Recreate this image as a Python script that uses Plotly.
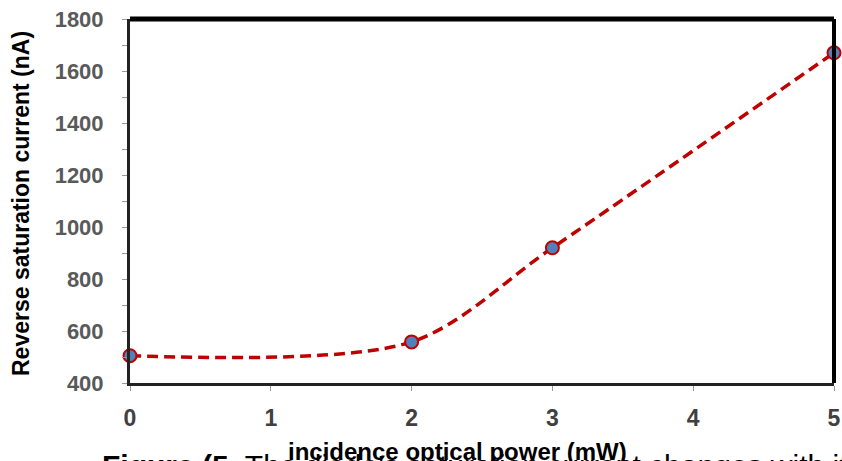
import plotly.graph_objects as go

power_mw = [0, 2, 3, 5]
current_na = [505, 558, 920, 1670]
x_ticks = [0, 1, 2, 3, 4, 5]
y_ticks = [400, 600, 800, 1000, 1200, 1400, 1600, 1800]
x_title = "incidence optical power (mW)"
y_title = "Reverse saturation current (nA)"
caption = "<b>Figure (5.</b> The diode's saturation current changes with its"

fig = go.Figure()
fig.add_trace(go.Scatter(
    x=power_mw, y=current_na, mode="lines+markers",
    line=dict(color="#C00000", width=3.5, dash="11px,6px", shape="spline", smoothing=0.85),
    marker=dict(size=13, color="#4F81BD", line=dict(color="#C00000", width=2)),
    cliponaxis=False, showlegend=False,
))

W, H = 842, 461
L, R, T, B = 130, 8, 19, 78
pw, ph = W - L - R, H - T - B

def px_x(p):
    return (p - L) / pw

def px_y(p):
    return (H - B - p) / ph

fig.update_layout(
    template="none",
    width=W, height=H,
    margin=dict(l=L, r=R, t=T, b=B, pad=0),
    paper_bgcolor="white", plot_bgcolor="white",
    xaxis=dict(range=[0, 5], tickvals=x_ticks, showgrid=False, zeroline=False,
               automargin=False,
               showline=True, linecolor="#222", linewidth=3,
               ticks="outside", ticklen=5, tickcolor="#999", tickwidth=1,
               tickfont=dict(family="Liberation Sans", size=23, color="#404040", weight="bold"),
               ticklabelstandoff=7),
    yaxis=dict(range=[400, 1800], tickvals=y_ticks, showgrid=False, zeroline=False,
               automargin=False,
               showline=True, linecolor="#222", linewidth=3,
               ticks="outside", ticklen=5, tickcolor="#999", tickwidth=1,
               minor=dict(dtick=100, ticks="outside", ticklen=5, tickcolor="#999", tickwidth=1),
               tickfont=dict(family="Liberation Sans", size=22, color="#595959", weight="bold"),
               ticklabelstandoff=14),
    font=dict(family="Liberation Sans"),
)

# top and right frame lines (thick)
fig.add_shape(type="line", xref="paper", yref="paper", x0=0, x1=1, y0=1, y1=1,
              line=dict(color="black", width=5))
fig.add_shape(type="line", xref="paper", yref="paper", x0=1, x1=1, y0=0, y1=1,
              line=dict(color="black", width=4))

fig.add_annotation(text=caption, xref="paper", yref="paper",
                   x=px_x(100), y=px_y(447), xanchor="left", yanchor="top",
                   showarrow=False,
                   font=dict(family="Liberation Sans", size=30, color="black"))
fig.add_annotation(text="<b>" + x_title + "</b>", xref="paper", yref="paper",
                   x=px_x(457), y=px_y(451), xanchor="center", yanchor="middle",
                   showarrow=False,
                   font=dict(family="Liberation Sans", size=24, color="black"))
fig.add_annotation(text="<b>" + y_title + "</b>", xref="paper", yref="paper",
                   x=px_x(21), y=px_y(204), xanchor="center", yanchor="middle",
                   textangle=-90, showarrow=False,
                   font=dict(family="Liberation Sans", size=23, color="black"))

fig.write_html("out.html")
